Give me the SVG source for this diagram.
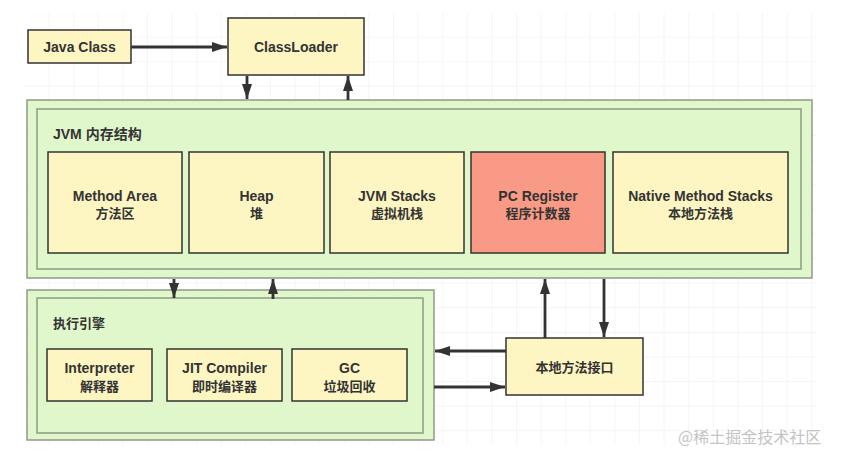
<svg xmlns="http://www.w3.org/2000/svg" width="841" height="454" viewBox="0 0 841 454">
<defs>
<pattern id="grid" width="24.6" height="24.6" patternUnits="userSpaceOnUse" x="25" y="13">
<path d="M24.6 0V24.6H0" fill="none" stroke="#ebebeb" stroke-width="1"/>
</pattern>
<marker id="ah" viewBox="0 0 15 10" refX="15" refY="5" markerWidth="15" markerHeight="10" markerUnits="userSpaceOnUse" orient="auto">
<path d="M0 0L15 5L0 10z" fill="#333"/>
</marker>
</defs>
<style>
.box{fill:#fdf6c3;stroke:#333;stroke-width:1.5}
.red{fill:#f99a86;stroke:#333;stroke-width:1.5}
.outer{fill:#e0f6cb;stroke:#8e9a86;stroke-width:1.5}
.inner{fill:none;stroke:#8e9a86;stroke-width:1.5}
.t{font-family:"Liberation Sans","Noto Sans CJK SC",sans-serif;font-weight:bold;font-size:14px;fill:#333;text-anchor:middle;dominant-baseline:central}
.z{font-size:13px}
.tl{text-anchor:start}
.c{stroke:#333;stroke-width:2.8;fill:none;marker-end:url(#ah)}
.wm{font-family:"Noto Sans CJK SC",sans-serif;font-size:16px;fill:#c4c4c4}
</style>
<rect width="841" height="454" fill="#fff"/>
<rect x="25" y="13" width="792" height="432" fill="url(#grid)"/>
<g id="java-class"><rect class="box" x="28" y="30" width="103" height="33"/><text class="t" x="79.5" y="47">Java Class</text></g>
<g id="classloader"><rect class="box" x="228" y="18" width="136" height="57"/><text class="t" x="296" y="47">ClassLoader</text></g>
<g id="jvm-memory">
<rect class="outer" x="27" y="100" width="785" height="178"/>
<rect class="inner" x="37" y="109" width="764" height="160"/>
<text class="t tl" x="53" y="134">JVM 内存结构</text>
</g>
<g id="method-area"><rect class="box" x="48" y="152" width="134" height="101"/><text class="t" x="115" y="196">Method Area</text><text class="t z" x="115" y="213">方法区</text></g>
<g id="heap"><rect class="box" x="189" y="152" width="135" height="101"/><text class="t" x="256.5" y="196">Heap</text><text class="t z" x="256.5" y="213">堆</text></g>
<g id="jvm-stacks"><rect class="box" x="330" y="152" width="134" height="101"/><text class="t" x="397" y="196">JVM Stacks</text><text class="t z" x="397" y="213">虚拟机栈</text></g>
<g id="pc-register"><rect class="red" x="471" y="152" width="134" height="101"/><text class="t" x="538" y="196">PC Register</text><text class="t z" x="538" y="213">程序计数器</text></g>
<g id="native-method-stacks"><rect class="box" x="613" y="152" width="175" height="101"/><text class="t" x="700.5" y="196">Native Method Stacks</text><text class="t z" x="700.5" y="213">本地方法栈</text></g>
<g id="execution-engine">
<rect class="outer" x="27" y="290" width="407" height="150"/>
<rect class="inner" x="37" y="298" width="386" height="135"/>
<text class="t tl z" x="53" y="323">执行引擎</text>
</g>
<g id="interpreter"><rect class="box" x="47" y="349" width="105" height="52"/><text class="t" x="99.5" y="368">Interpreter</text><text class="t z" x="99.5" y="386">解释器</text></g>
<g id="jit-compiler"><rect class="box" x="167" y="349" width="115" height="52"/><text class="t" x="224.5" y="368">JIT Compiler</text><text class="t z" x="224.5" y="386">即时编译器</text></g>
<g id="gc"><rect class="box" x="292" y="349" width="115" height="52"/><text class="t" x="349.5" y="368">GC</text><text class="t z" x="349.5" y="386">垃圾回收</text></g>
<g id="native-interface"><rect class="box" x="506" y="338" width="137" height="57"/><text class="t z" x="574.5" y="367">本地方法接口</text></g>
<g id="connectors">
<line class="c" x1="131" y1="47" x2="227" y2="47"/>
<line class="c" x1="247" y1="76" x2="247" y2="99"/>
<line class="c" x1="348" y1="100" x2="348" y2="76"/>
<line class="c" x1="174" y1="279" x2="174" y2="298"/>
<line class="c" x1="273" y1="299" x2="273" y2="279"/>
<line class="c" x1="545" y1="338" x2="545" y2="279"/>
<line class="c" x1="604" y1="279" x2="604" y2="337"/>
<line class="c" x1="506" y1="351" x2="435" y2="351"/>
<line class="c" x1="434" y1="387" x2="505" y2="387"/>
</g>
<text class="wm" x="678" y="443">@稀土掘金技术社区</text>
</svg>
